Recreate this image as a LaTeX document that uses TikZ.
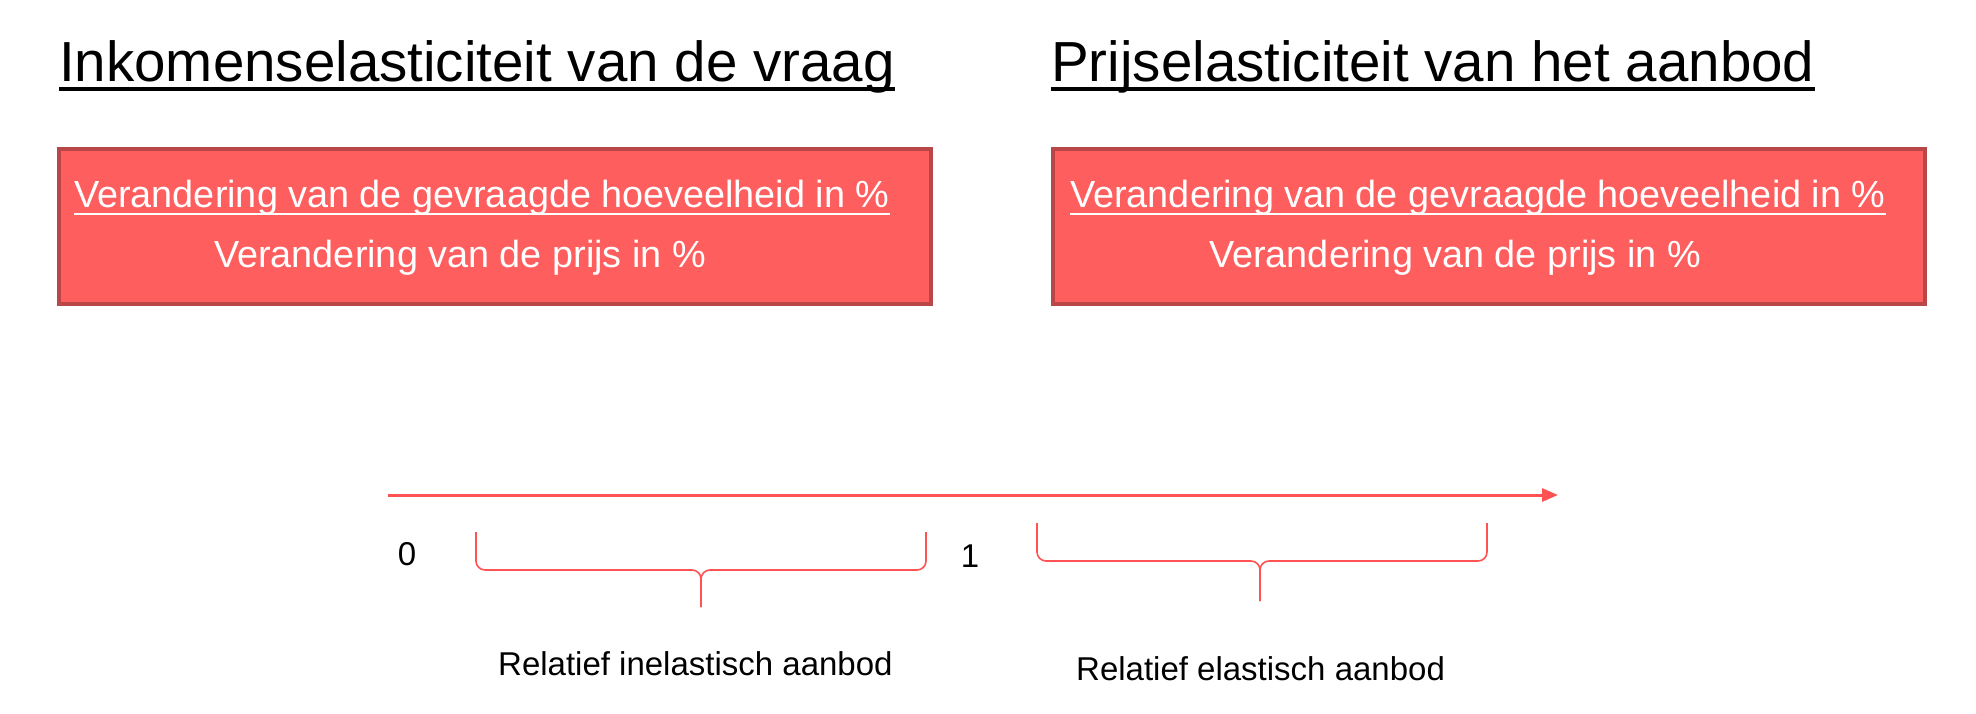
\documentclass[tikz,border=0pt]{standalone}
\usepackage{fontspec}
\setmainfont{Liberation Sans}
\usetikzlibrary{arrows.meta}
\definecolor{boxfill}{HTML}{FF5E5E}
\definecolor{boxedge}{HTML}{BA4747}
\definecolor{axisred}{HTML}{FF5252}
\tikzset{
  title/.style={anchor=base west,inner sep=0pt,font=\fontsize{56.5}{60}\selectfont},
  redbox/.style={draw=boxedge,fill=boxfill,line width=4pt,minimum width=872pt,minimum height=155pt,anchor=north west,inner sep=0pt},
  boxtext/.style={anchor=base west,inner sep=0pt,text=white,font=\fontsize{37.8}{40}\selectfont},
  small/.style={inner sep=0pt,font=\fontsize{33}{36}\selectfont},
  brace/.style={draw=axisred,line width=1.6pt,rounded corners=9pt},
}
\begin{document}
\begin{tikzpicture}[x=1pt,y=-1pt]
\useasboundingbox (0,0) rectangle (1976,714);
% titles
\node[title] (t1) at (59,82) {Inkomenselasticiteit van de vraag};
\node[title] (t2) at (1051,82) {Prijselasticiteit van het aanbod};
\draw[line width=4pt] ([yshift=-7pt]t1.base west) -- ([yshift=-7pt]t1.base east);
\draw[line width=4pt] ([yshift=-7pt]t2.base west) -- ([yshift=-7pt]t2.base east);
% boxes
\node[redbox] (b1) at (57,147) {};
\node[redbox] (b2) at (1051,147) {};
\node[boxtext] (b1a) at (74,208) {Verandering van de gevraagde hoeveelheid in \%};
\node[boxtext] (b1b) at (214,268) {Verandering van de prijs in \%};
\node[boxtext] (b2a) at (1070,208) {Verandering van de gevraagde hoeveelheid in \%};
\node[boxtext] (b2b) at (1209,268) {Verandering van de prijs in \%};
\draw[white,line width=2.2pt] ([yshift=-6pt]b1a.base west) -- ([yshift=-6pt]b1a.base east);
\draw[white,line width=2.2pt] ([yshift=-6pt]b2a.base west) -- ([yshift=-6pt]b2a.base east);
% axis
\coordinate (a0) at (388,495);
\coordinate (a1) at (1558,495);
\draw[axisred,line width=3pt,-{Triangle[length=16pt,width=13pt]}] (a0) -- (a1);
\node[small] (n0) at (407,554) {0};
\node[small] (n1) at (970,556) {1};
% braces
\draw[brace] (476,532) -- (476,570) -- (701,570) -- (701,607);
\draw[brace] (926,532) -- (926,570) -- (701,570) -- (701,607);
\draw[brace] (1037,523) -- (1037,561) -- (1260,561) -- (1260,601);
\draw[brace] (1487,523) -- (1487,561) -- (1260,561) -- (1260,601);
% labels
\node[small,anchor=west] (l1) at (498,664) {Relatief inelastisch aanbod};
\node[small,anchor=west] (l2) at (1076,669) {Relatief elastisch aanbod};
\end{tikzpicture}
\end{document}
